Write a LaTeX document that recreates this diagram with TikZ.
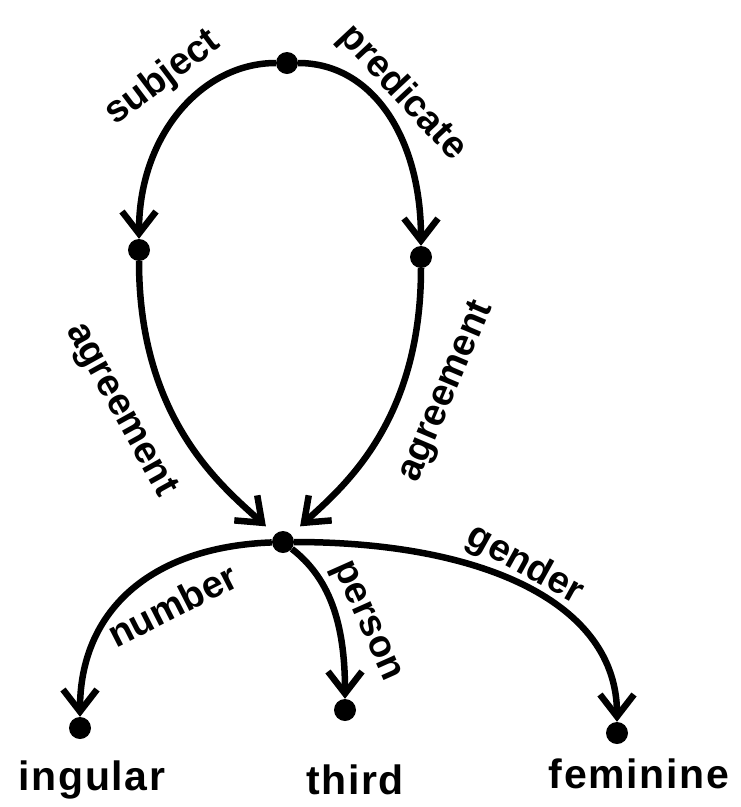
\documentclass[tikz,border=0pt]{standalone}
\usepackage{fontspec}
\setmainfont{Liberation Sans}
\usetikzlibrary{arrows.meta}
\begin{document}
\begin{tikzpicture}[x=1pt,y=-1pt,
  dot/.style={circle,fill=black,inner sep=0pt,minimum size=22pt},
  link/.style={line width=6.5pt,-{Straight Barb[length=22pt,width=34pt]}},
  lab/.style={font=\fontsize{38}{38}\selectfont\bfseries,inner sep=0pt},
  leaf/.style={font=\fontsize{41}{41}\selectfont\bfseries\addfontfeatures{LetterSpace=4},inner sep=0pt}]
\useasboundingbox (0,0) rectangle (740,807);
\node[dot] (top) at (287,63) {};
\node[dot] (l) at (139,250) {};
\node[dot] (r) at (421,257) {};
\node[dot] (c) at (283,542) {};
\node[dot] (s) at (80,728) {};
\node[dot] (t) at (345,710) {};
\node[dot] (f) at (617,733) {};
\draw[link] (top) .. controls +(-85,0) and +(0,-115) .. (l);
\draw[link] (top) .. controls +(85,0) and +(0,-120) .. (r);
\draw[link,shorten >=12pt] (l) .. controls +(0,170) and +(-60,-55) .. (c);
\draw[link,shorten >=12pt] (r) .. controls +(0,165) and +(60,-55) .. (c);
\draw[link] (c) .. controls +(-135,5) and +(0,-115) .. (s);
\draw[link] (c) .. controls +(45,35) and +(0,-90) .. (t);
\draw[link] (c) .. controls +(200,0) and +(0,-130) .. (f);
\node[lab,rotate=37] (ls) at (163,78) {subject};
\node[lab,rotate=-47] (lp) at (402,93) {predicate};
\node[lab,rotate=-61] (la1) at (120,410) {agreement};
\node[lab,rotate=67] (la2) at (447,392) {agreement};
\node[lab,rotate=27] (ln) at (172,605) {number};
\node[lab,rotate=-66] (lpe) at (365,622) {person};
\node[lab,rotate=-29] (lg) at (525,565) {gender};
\node[leaf] (ts) at (92,780) {ingular};
\node[leaf] (tt) at (355,780) {third};
\node[leaf] (tf) at (639,774) {feminine};
\end{tikzpicture}
\end{document}
